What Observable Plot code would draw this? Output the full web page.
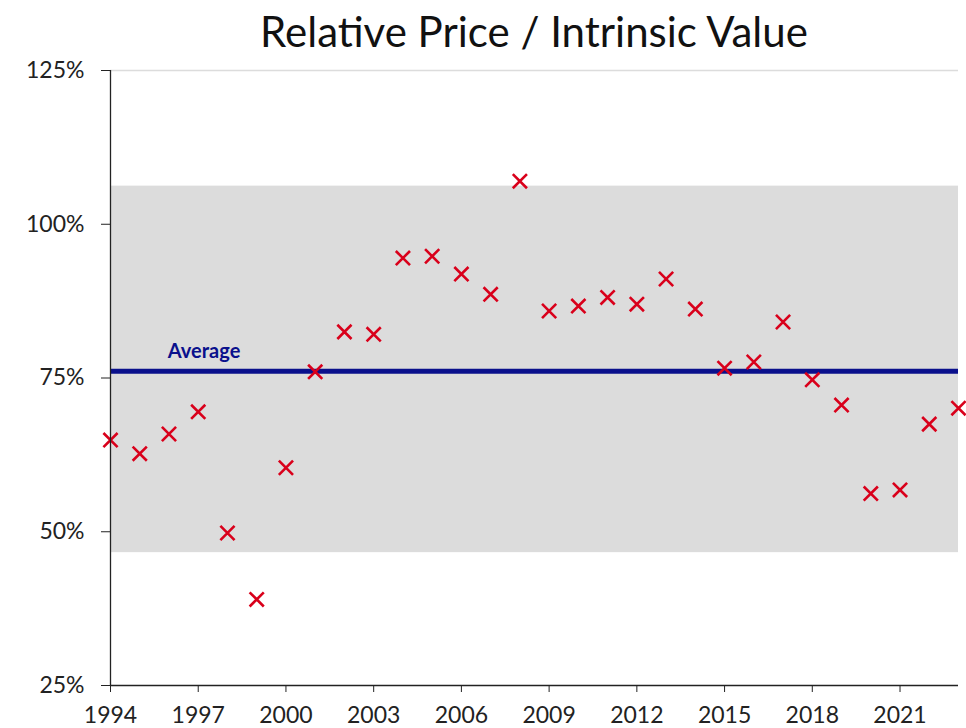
<!DOCTYPE html>
<html>
<head>
<meta charset="utf-8">
<script src="https://cdn.jsdelivr.net/npm/d3@7"></script>
<script src="https://cdn.jsdelivr.net/npm/@observablehq/plot@0.6"></script>
<style>
  html, body { margin: 0; padding: 0; background: #fff; }
  #title { height: 60px; box-sizing: border-box; padding: 6px 8px 0 110px; text-align: center;
           font-family: Lato, "Open Sans", sans-serif; font-size: 42px; color: #111; line-height: 50px; }
  svg { display: block; }
</style>
</head>
<body>
<div id="title">Relative Price / Intrinsic Value</div>
<div id="chart"></div>
<script>
const years = [1994,1995,1996,1997,1998,1999,2000,2001,2002,2003,2004,2005,2006,2007,2008,2009,2010,2011,2012,2013,2014,2015,2016,2017,2018,2019,2020,2021,2022,2023];
const ratio = [64.9,62.7,65.9,69.5,49.8,39.0,60.4,76.0,82.5,82.1,94.5,94.8,91.9,88.6,107.0,85.9,86.7,88.1,87.0,91.1,86.2,76.6,77.6,84.1,74.7,70.6,56.2,56.8,67.5,70.1];
const averageValue = [76.1];
const bandLow = 46.6, bandHigh = 106.2;
const xTicks = [1994,1997,2000,2003,2006,2009,2012,2015,2018,2021];
const yTicks = [25,50,75,100,125];

const data = years.map((y, i) => ({year: y, value: ratio[i]}));
const font = "Lato, 'Open Sans', sans-serif";

const chart = Plot.plot({
  width: 966,
  height: 668,
  marginLeft: 110,
  marginRight: 8,
  marginTop: 10,
  marginBottom: 43,
  style: {fontFamily: font, fontSize: "23px", color: "#222", background: "#fff", overflow: "visible"},
  x: {domain: [1994, 2023]},
  y: {domain: [25, 125]},
  marks: [
    Plot.rect([{x1: 1994, x2: 2023, y1: bandLow, y2: bandHigh}], {x1: "x1", x2: "x2", y1: "y1", y2: "y2", fill: "#dcdcdc"}),
    Plot.ruleY([125], {stroke: "#dcdcdc", strokeWidth: 1.5}),
    Plot.ruleY(averageValue, {stroke: "#0a108c", strokeWidth: 5}),
    Plot.text([{x: 1997.2, y: averageValue[0] + 3.2, t: "Average"}], {x: "x", y: "y", text: "t", fill: "#0a108c", fontWeight: "bold", fontSize: 20}),
    Plot.dot(data, {x: "year", y: "value", symbol: "times", r: 6.5, stroke: "#d9001b", strokeWidth: 2.6}),
    Plot.ruleX([1994], {stroke: "#222", strokeWidth: 1.3}),
    Plot.ruleY([25], {stroke: "#222", strokeWidth: 1.3}),
    Plot.axisY({ticks: yTicks, tickFormat: d => d + "%", tickSize: 9, tickPadding: 17, label: null, stroke: "#222"}),
    Plot.axisX({ticks: xTicks, tickFormat: d => String(d), tickSize: 7, tickPadding: 14, label: null, stroke: "#222"})
  ]
});
document.getElementById("chart").appendChild(chart);
</script>
</body>
</html>
